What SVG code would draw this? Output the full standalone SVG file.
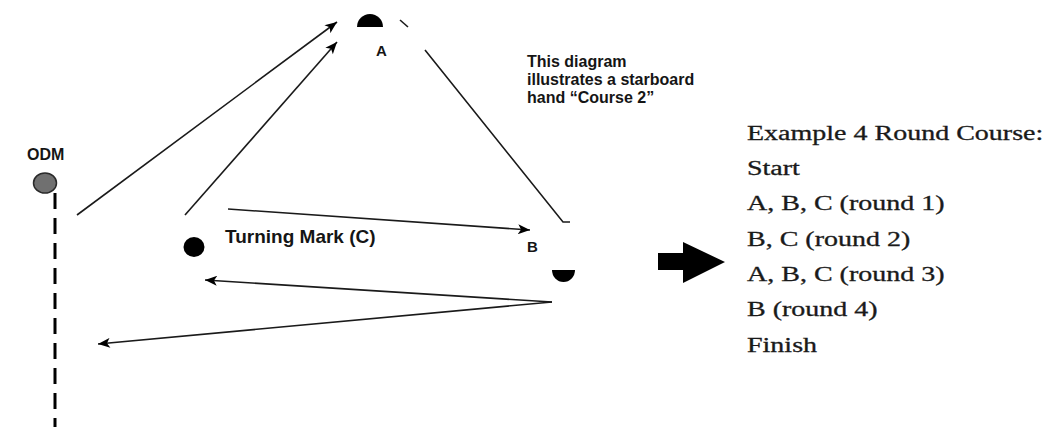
<svg xmlns="http://www.w3.org/2000/svg" width="1049" height="427" viewBox="0 0 1049 427">
<defs>
<style>
.lbl{font-family:"Liberation Sans",Arial,sans-serif;font-weight:bold;fill:#151515}
.ser{font-family:"Liberation Serif","Times New Roman",serif;font-size:20px;fill:#1a1a1a;stroke:#1a1a1a;stroke-width:0.3}
.ln{stroke:#1a1a1a;stroke-width:1.6;fill:none}
.mark{fill:#000}
</style>
<marker id="ah" viewBox="0 0 12 10" refX="12" refY="5" markerWidth="13" markerHeight="10" markerUnits="userSpaceOnUse" orient="auto">
<path d="M0,0 L12,5 L0,10 L3,5 z" fill="#000"/>
</marker>
</defs>
<rect width="1049" height="427" fill="#fff"/>
<g id="odm">
<text class="lbl" x="27" y="160" font-size="16">ODM</text>
<ellipse cx="45" cy="183" rx="11.5" ry="10" fill="#707070" stroke="#2a2a2a" stroke-width="1.5"/>
<line x1="55" y1="193" x2="55" y2="427" stroke="#000" stroke-width="3" stroke-dasharray="16 9"/>
</g>
<g id="markA">
<path class="mark" d="M357,27 A13,13 0 0 1 383,27 Z"/>
<text class="lbl" x="376" y="56" font-size="15">A</text>
</g>
<g id="markB">
<path class="mark" d="M552,270 A11.5,12 0 0 0 575,270 Z"/>
<text class="lbl" x="527" y="252" font-size="15">B</text>
</g>
<g id="markC">
<ellipse class="mark" cx="194" cy="247" rx="10.5" ry="10"/>
<text class="lbl" x="225" y="243" font-size="19">Turning Mark (C)</text>
</g>
<g id="note">
<text class="lbl" font-size="16"><tspan x="527" y="67">This diagram</tspan><tspan x="527" y="85">illustrates a starboard</tspan><tspan x="527" y="103">hand “Course 2”</tspan></text>
</g>
<g id="course">
<polygon points="658,253 683,253 683,242 725,262 683,283 683,270 658,270" fill="#000"/>
<g transform="translate(747,0) scale(1.4,1)">
<text class="ser" x="0" y="140">Example 4 Round Course:</text>
<text class="ser" x="0" y="175">Start</text>
<text class="ser" x="0" y="210">A, B, C (round 1)</text>
<text class="ser" x="0" y="246">B, C (round 2)</text>
<text class="ser" x="0" y="281">A, B, C (round 3)</text>
<text class="ser" x="0" y="316">B (round 4)</text>
<text class="ser" x="0" y="352">Finish</text>
</g>
</g>
<g id="connectors">
<line class="ln" x1="77" y1="215" x2="337" y2="22" marker-end="url(#ah)"/>
<line class="ln" x1="185" y1="215" x2="337" y2="42" marker-end="url(#ah)"/>
<line class="ln" x1="400" y1="20" x2="408" y2="27"/>
<polyline class="ln" points="425,50 563,222 570,222"/>
<line class="ln" x1="228" y1="209" x2="530" y2="230" marker-end="url(#ah)"/>
<line class="ln" x1="552" y1="302" x2="205" y2="280" marker-end="url(#ah)"/>
<line class="ln" x1="552" y1="302" x2="98" y2="344" marker-end="url(#ah)"/>
</g>
</svg>
